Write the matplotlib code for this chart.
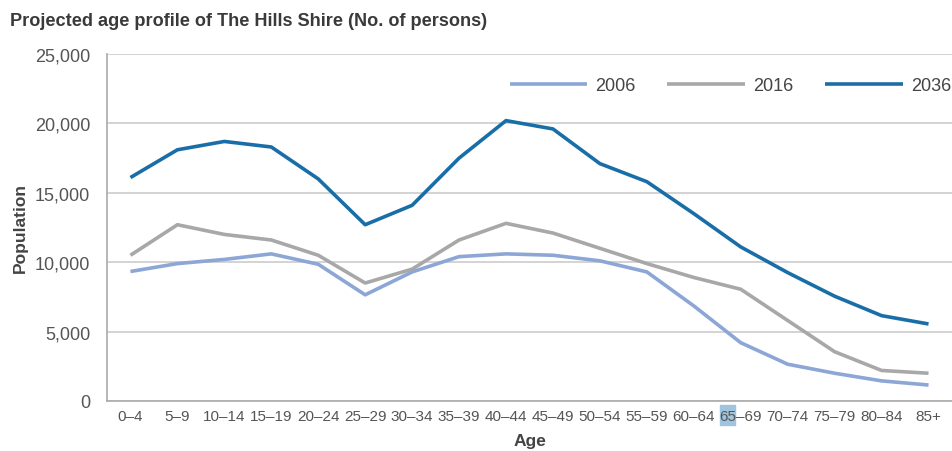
import numpy as np
import matplotlib
matplotlib.use('Agg')
import matplotlib.pyplot as plt
from matplotlib.patches import Rectangle

ages = ['0–4', '5–9', '10–14', '15–19', '20–24', '25–29', '30–34', '35–39',
        '40–44', '45–49', '50–54', '55–59', '60–64', '65–69', '70–74',
        '75–79', '80–84', '85+']

pop_2006 = [9330, 9900, 10200, 10600, 9850, 7650, 9300, 10400, 10600,
            10500, 10100, 9300, 6850, 4200, 2650, 2000, 1450, 1150]
pop_2016 = [10500, 12700, 12000, 11600, 10500, 8500, 9500, 11600, 12800,
            12100, 11000, 9900, 8900, 8050, 5800, 3550, 2200, 2000]
pop_2036 = [16100, 18100, 18700, 18300, 16000, 12700, 14100, 17500, 20200,
            19600, 17100, 15800, 13500, 11100, 9250, 7550, 6150, 5550]

yticks = [0, 5000, 10000, 15000, 20000, 25000]

plt.rcParams['font.family'] = ['Liberation Sans', 'DejaVu Sans']

fig = plt.figure(figsize=(9.52, 4.52), dpi=100)
ax = fig.add_axes([107/952, 50/452, 845/952, 347/452])

x = np.arange(len(ages))
ax.plot(x, pop_2006, color='#8ca6d6', lw=2.6, label='2006', solid_capstyle='butt')
ax.plot(x, pop_2016, color='#a8a8a8', lw=2.6, label='2016', solid_capstyle='butt')
ax.plot(x, pop_2036, color='#1a6ea8', lw=2.6, label='2036', solid_capstyle='butt')

ax.set_xlim(-0.5, len(ages) - 0.5)
ax.set_ylim(0, 25000)
ax.set_yticks(yticks)
ax.set_yticklabels([f'{v:,}' for v in yticks])
ax.set_xticks(x)
ax.set_xticklabels(ages, family=['Liberation Sans Narrow', 'Liberation Sans'])

ax.yaxis.grid(True, color='#cccccc', lw=1.2)
ax.set_axisbelow(True)
ax.tick_params(axis='both', length=0, colors='#555555')
ax.tick_params(axis='y', labelsize=13, pad=12)
ax.tick_params(axis='x', labelsize=11, pad=6)

for s in ['top', 'right']:
    ax.spines[s].set_visible(False)
for s in ['left', 'bottom']:
    ax.spines[s].set_color('#aaaaaa')
    ax.spines[s].set_linewidth(1.2)

ax.set_ylabel('Population', fontsize=12.5, fontweight='bold', color='#444444', labelpad=5)
ax.set_xlabel('Age', fontsize=12.5, fontweight='bold', color='#444444', labelpad=7)

leg = ax.legend(ncol=3, loc='upper right', bbox_to_anchor=(1.018, 0.98), frameon=False,
                fontsize=13, handlelength=4.3, handletextpad=0.45, columnspacing=1.75)
for t in leg.get_texts():
    t.set_color('#444444')

# small highlight behind the "65" of 65–69
fig.patches.append(Rectangle((720/952, 1 - 426/452), 15/952, 20/452,
                             transform=fig.transFigure, color='#9fc4dd', zorder=-1))

fig.text(10/952, 1 - 21/452, 'Projected age profile of The Hills Shire (No. of persons)',
         fontsize=13.1, fontweight='bold', color='#3a3a3a', va='center', ha='left')

fig.savefig('out.png', dpi=100)
